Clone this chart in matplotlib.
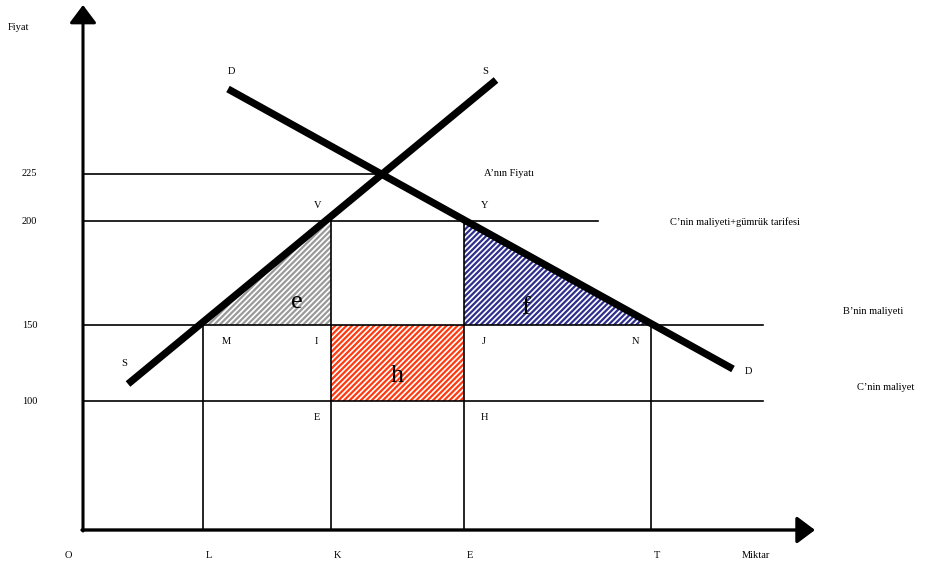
import matplotlib.pyplot as plt
from matplotlib.patches import Polygon

# diagram coordinates: x to the right, y upward (frame 932 x 562)
price_labels = ['225', '200', '150', '100']
price_levels = [388, 341, 237, 161]          # 225, 200, 150, 100
price_line_ends = [385, 598, 763, 763]

qty_labels = ['L', 'K', 'E', 'T']
qty_pos = [203, 331, 464, 651]
qty_tops = [237, 341, 341, 237]               # where each vertical line stops

origin = (83, 32)
x_end = 815
y_end = 557

# supply / demand endpoints
S_x = [128, 496]
S_y = [178, 482]
D_x = [228, 733]
D_y = [473, 193]

plt.rcParams['font.family'] = ['Liberation Serif', 'DejaVu Serif']
plt.rcParams['hatch.linewidth'] = 1.6

fig = plt.figure(figsize=(9.32, 5.62), dpi=100)
ax = fig.add_axes([0, 0, 1, 1])
ax.set_xlim(0, 932)
ax.set_ylim(0, 562)
ax.axis('off')

# shaded areas
p200 = price_levels[1]
p150 = price_levels[2]
p100 = price_levels[3]
L, K, E, T = qty_pos

ax.add_patch(Polygon([(L, p150), (K, p150), (K, p200)], closed=True,
                     facecolor='white', edgecolor='#9a9a9a', hatch='//////', lw=0))
ax.add_patch(Polygon([(E, p200), (E, p150), (T, p150)], closed=True,
                     facecolor='white', edgecolor='#2e2e8c', hatch='//////', lw=0))
ax.add_patch(Polygon([(K, p100), (E, p100), (E, p150), (K, p150)], closed=True,
                     facecolor='white', edgecolor='#ff3a10', hatch='//////', lw=0))

# horizontal price lines
for lvl, end in zip(price_levels, price_line_ends):
    ax.plot([origin[0], end], [lvl, lvl], color='black', lw=1.2)

# vertical quantity lines
for q, top in zip(qty_pos, qty_tops):
    ax.plot([q, q], [origin[1], top], color='black', lw=1.2)

# supply and demand
ax.plot(S_x, S_y, color='black', lw=5.2, solid_capstyle='butt')
ax.plot(D_x, D_y, color='black', lw=5.2, solid_capstyle='butt')

# axes with arrows
arrow = dict(arrowstyle='-|>,head_length=1.0,head_width=0.75', mutation_scale=11,
             color='black', shrinkA=0, shrinkB=0)
ax.annotate('', xy=(x_end, origin[1]), xytext=(origin[0] - 1, origin[1]),
            arrowprops=dict(arrow, lw=2.4))
ax.annotate('', xy=(origin[0], y_end), xytext=(origin[0], origin[1] - 1),
            arrowprops=dict(arrow, lw=2.2))

fs = 7.5
# price tick labels
for lab, lvl in zip(price_labels, price_levels):
    ax.text(22, lvl, lab, fontsize=fs, va='center', ha='left')
ax.text(8, 535, 'Fiyat', fontsize=fs, va='center')

# quantity labels
ax.text(65, 6, 'O', fontsize=fs, va='center')
for lab, q in zip(qty_labels, qty_pos):
    ax.text(q + 3, 6, lab, fontsize=fs, va='center')
ax.text(742, 6, 'Miktar', fontsize=fs, va='center')

# curve labels
ax.text(228, 490, 'D', fontsize=fs, va='center')
ax.text(482, 490, 'S', fontsize=fs, va='center')
ax.text(121, 199, 'S', fontsize=fs, va='center')
ax.text(745, 190, 'D', fontsize=fs, va='center')

# level descriptions
ax.text(484, 388, 'A\u2019n\u0131n Fiyat\u0131', fontsize=fs, va='center')
ax.text(670, 340, 'C\u2019nin maliyeti+g\u00fcmr\u00fck tarifesi', fontsize=fs, va='center')
ax.text(843, 251, 'B\u2019nin maliyeti', fontsize=fs, va='center')
ax.text(857, 174, 'C\u2019nin maliyet', fontsize=fs, va='center')

# point labels
ax.text(314, 357, 'V', fontsize=fs, va='center')
ax.text(481, 357, 'Y', fontsize=fs, va='center')
ax.text(222, 220, 'M', fontsize=fs, va='center')
ax.text(315, 220, 'I', fontsize=fs, va='center')
ax.text(482, 220, 'J', fontsize=fs, va='center')
ax.text(632, 220, 'N', fontsize=fs, va='center')
ax.text(314, 144, 'E', fontsize=fs, va='center')
ax.text(481, 144, 'H', fontsize=fs, va='center')

# area letters
ax.text(297, 260, 'e', fontsize=19, ha='center', va='center')
ax.text(526, 254, 'f', fontsize=19, ha='center', va='center')
ax.text(397, 186, 'h', fontsize=19, ha='center', va='center')

fig.savefig('out.png', dpi=100)
